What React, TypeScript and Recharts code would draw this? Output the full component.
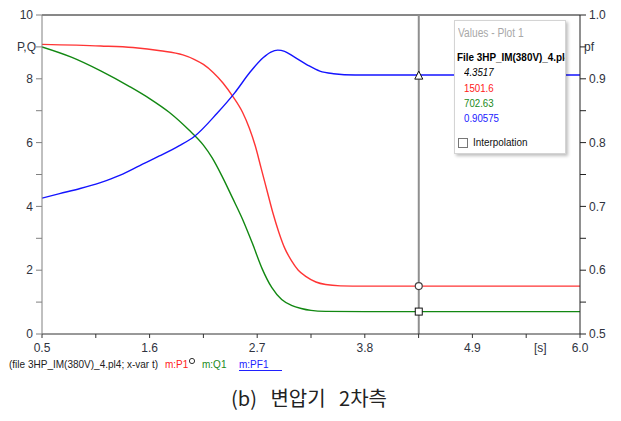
import React from 'react';
import { LineChart, Line, XAxis, YAxis, ReferenceLine, ReferenceDot } from 'recharts';

// P1 (scaled /1000 on the P,Q axis)
const P_T = [0.5, 1.1, 1.43, 1.71, 1.94, 2.05, 2.15, 2.25, 2.35, 2.45, 2.55, 2.62, 2.68, 2.74, 2.8, 2.86, 2.92, 2.98, 3.05, 3.12, 3.2, 3.3, 3.4, 3.55, 3.8, 6.0];
const P_V = [9.08, 9.03, 8.98, 8.88, 8.75, 8.62, 8.45, 8.2, 7.87, 7.45, 6.95, 6.45, 5.9, 5.2, 4.5, 3.8, 3.2, 2.7, 2.3, 2.0, 1.8, 1.63, 1.55, 1.51, 1.5, 1.5];

// Q1
const Q_T = [0.5, 0.8, 1.1, 1.4, 1.6, 1.8, 2.0, 2.15, 2.24, 2.34, 2.45, 2.55, 2.65, 2.75, 2.85, 2.95, 3.05, 3.15, 3.25, 3.4, 3.8, 6.0];
const Q_V = [9.0, 8.68, 8.25, 7.75, 7.38, 6.95, 6.4, 5.92, 5.52, 4.95, 4.25, 3.6, 2.85, 2.05, 1.45, 1.08, 0.9, 0.8, 0.74, 0.71, 0.7, 0.7];

// PF1 (right axis)
const F_T = [0.5, 0.68, 0.89, 1.09, 1.3, 1.5, 1.7, 1.9, 2.06, 2.29, 2.47, 2.63, 2.76, 2.84, 2.91, 2.98, 3.07, 3.21, 3.34, 3.48, 3.7, 6.0];
const F_V = [0.713, 0.72, 0.728, 0.737, 0.749, 0.764, 0.779, 0.795, 0.81, 0.846, 0.878, 0.911, 0.933, 0.942, 0.945, 0.943, 0.935, 0.922, 0.912, 0.908, 0.906, 0.906];

const X_TICKS = [0.5, 1.05, 1.6, 2.15, 2.7, 3.25, 3.8, 4.35, 4.9, 5.45, 6.0];
const X_LABELS = [0.5, 1.6, 2.7, 3.8, 4.9, 6.0];
const LEFT_TICKS = [0, 1, 2, 3, 4, 5, 6, 7, 8, 9, 10];
const RIGHT_TICKS = [0.5, 0.55, 0.6, 0.65, 0.7, 0.75, 0.8, 0.85, 0.9, 0.95, 1.0];

// cursor readout
const CURSOR_T = 4.3517;
const CURSOR_P = 1501.6;
const CURSOR_Q = 702.63;
const CURSOR_PF = 0.90575;

const pData = P_T.map((t, i) => ({ t, v: P_V[i] }));
const qData = Q_T.map((t, i) => ({ t, v: Q_V[i] }));
const fData = F_T.map((t, i) => ({ t, v: F_V[i] }));

const FONT = "'Liberation Sans', Arial, sans-serif";
const TICK_COLOR = '#2f3340';
const tickStyle = { fontFamily: FONT, fontSize: 12, fill: TICK_COLOR };

const fmtX = (v: number) => (X_LABELS.some(m => Math.abs(m - v) < 1e-6) ? v.toFixed(1) : '');

// left axis: even numbers, "P,Q" sits where 9 would be
const LeftTick = (props: any) => {
  const { x, y, payload } = props;
  const v = payload.value;
  const text = v === 9 ? 'P,Q' : v % 2 === 0 ? String(v) : '';
  return (
    <text x={v === 9 ? x + 3 : x} y={y} dy="0.355em" textAnchor="end" fontFamily={FONT} fontSize={12} fill={TICK_COLOR}>
      {text}
    </text>
  );
};

// right axis: 0.5..1.0, "pf" sits at 0.95
const RightTick = (props: any) => {
  const { x, y, payload } = props;
  const k = Math.round(payload.value * 100);
  const text = k === 95 ? 'pf' : k % 10 === 0 ? (k / 100).toFixed(1) : '';
  return (
    <text x={k === 95 ? x - 5 : x} y={y} dy="0.355em" textAnchor="start" fontFamily={FONT} fontSize={12} fill={TICK_COLOR}>
      {text}
    </text>
  );
};

const Triangle = (props: any) => {
  const { cx, cy } = props;
  return <path d={`M${cx},${cy - 4} L${cx + 4},${cy + 4} L${cx - 4},${cy + 4} Z`} fill="#fff" stroke="#111" strokeWidth={1} />;
};
const Ring = (props: any) => <circle cx={props.cx} cy={props.cy} r={3.5} fill="#fff" stroke="#444" strokeWidth={1.2} />;
const Box = (props: any) => <rect x={props.cx - 3.5} y={props.cy - 3.5} width={7} height={7} fill="#fff" stroke="#111" strokeWidth={1} />;

const narrow = (s: number): React.CSSProperties => ({ transform: `scaleX(${s})`, transformOrigin: 'left center' });

export default function App() {
  return (
    <div style={{ position: 'absolute', left: 0, top: 0, width: 621, height: 421, background: '#fff', overflow: 'hidden', fontFamily: FONT }}>
      <LineChart width={621} height={421} margin={{ top: 15, right: 0, bottom: 57, left: 0 }}>
        <XAxis
          dataKey="t"
          type="number"
          domain={[0.5, 6.0]}
          ticks={X_TICKS}
          interval={0}
          tickFormatter={fmtX}
          tick={tickStyle}
          tickSize={4}
          tickMargin={5}
          height={30}
          stroke="#333"
          allowDataOverflow
        />
        <YAxis
          yAxisId="left"
          domain={[0, 10]}
          ticks={LEFT_TICKS}
          interval={0}
          tick={<LeftTick />}
          tickSize={6}
          tickMargin={3}
          width={42}
          stroke="#808080"
        />
        <YAxis
          yAxisId="right"
          orientation="right"
          domain={[0.5, 1.0]}
          ticks={RIGHT_TICKS}
          interval={0}
          tick={<RightTick />}
          tickSize={6}
          tickMargin={3}
          width={41}
          stroke="#222"
        />
        <ReferenceLine yAxisId="left" y={10} stroke="#111" strokeWidth={1} />
        <Line yAxisId="left" data={pData} dataKey="v" type="monotone" stroke="#ff3535" strokeWidth={1.4} dot={false} isAnimationActive={false} />
        <Line yAxisId="left" data={qData} dataKey="v" type="monotone" stroke="#128812" strokeWidth={1.4} dot={false} isAnimationActive={false} />
        <Line yAxisId="right" data={fData} dataKey="v" type="monotone" stroke="#1414ff" strokeWidth={1.4} dot={false} isAnimationActive={false} />
        <ReferenceLine yAxisId="left" x={CURSOR_T} stroke="#8f8f8f" strokeWidth={2} />
        <ReferenceDot yAxisId="right" x={CURSOR_T} y={CURSOR_PF} shape={Triangle} />
        <ReferenceDot yAxisId="left" x={CURSOR_T} y={CURSOR_P / 1000} shape={Ring} />
        <ReferenceDot yAxisId="left" x={CURSOR_T} y={CURSOR_Q / 1000} shape={Box} />
      </LineChart>

      <div style={{ position: 'absolute', left: 534, top: 341, fontSize: 12, color: TICK_COLOR }}>[s]</div>

      {/* values readout box */}
      <div style={{ position: 'absolute', left: 454, top: 20, width: 110, height: 132, background: '#fff', border: '1px solid #d4d4d4', boxShadow: '2px 2px 3px rgba(0,0,0,0.25)', overflow: 'hidden', fontSize: 11, whiteSpace: 'nowrap' }}>
        <div style={{ position: 'absolute', left: 3, top: 5, fontSize: 12, color: '#a8a8a8', ...narrow(0.85) }}>Values - Plot 1</div>
        <div style={{ position: 'absolute', left: 2, top: 30, fontWeight: 'bold', color: '#000', ...narrow(0.9) }}>File 3HP_IM(380V)_4.pl4</div>
        <div style={{ position: 'absolute', left: 9, top: 45, fontStyle: 'italic', color: '#000', ...narrow(0.88) }}>{CURSOR_T}</div>
        <div style={{ position: 'absolute', left: 9, top: 61, color: '#ff2020', ...narrow(0.88) }}>{CURSOR_P}</div>
        <div style={{ position: 'absolute', left: 9, top: 76, color: '#1a8a1a', ...narrow(0.88) }}>{CURSOR_Q}</div>
        <div style={{ position: 'absolute', left: 9, top: 91, color: '#2020ff', ...narrow(0.88) }}>{CURSOR_PF}</div>
        <div style={{ position: 'absolute', left: 3, top: 117, width: 8, height: 8, border: '1px solid #777', background: '#fff' }} />
        <div style={{ position: 'absolute', left: 18, top: 115, color: '#111', ...narrow(0.9) }}>Interpolation</div>
      </div>

      {/* bottom legend */}
      <div style={{ position: 'absolute', left: 0, top: 358, width: 621, height: 14, fontSize: 11, whiteSpace: 'nowrap' }}>
        <span style={{ position: 'absolute', left: 9, color: '#222', ...narrow(0.91) }}>(file 3HP_IM(380V)_4.pl4; x-var t)</span>
        <span style={{ position: 'absolute', left: 165, color: '#ff2020', ...narrow(0.91) }}>m:P1</span>
        <svg style={{ position: 'absolute', left: 188, top: -1 }} width={8} height={8}>
          <circle cx={4} cy={4} r={2.6} fill="none" stroke="#333" strokeWidth={1} />
        </svg>
        <span style={{ position: 'absolute', left: 202, color: '#1a8a1a', ...narrow(0.91) }}>m:Q1</span>
        <span style={{ position: 'absolute', left: 239, width: 43, height: 12, borderBottom: '1px solid #2020ff' }}>
          <span style={{ position: 'absolute', left: 0, top: 0, color: '#2020ff', lineHeight: '12px', ...narrow(0.91) }}>m:PF1</span>
        </span>
      </div>

      <div style={{ position: 'absolute', left: 0, top: 383, width: 618, textAlign: 'center', fontFamily: "'Noto Sans CJK KR', sans-serif", fontSize: 20, color: '#222', wordSpacing: 9 }}>
        (b) 변압기 2차측
      </div>
    </div>
  );
}
